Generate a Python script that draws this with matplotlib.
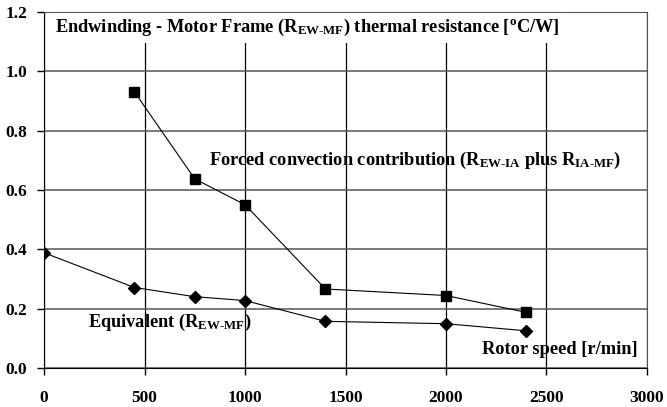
import matplotlib
matplotlib.use('Agg')
import matplotlib.pyplot as plt

plt.rcParams['font.family'] = 'Liberation Serif'
plt.rcParams['font.weight'] = 'bold'
plt.rcParams['mathtext.fontset'] = 'custom'
plt.rcParams['mathtext.rm'] = 'Liberation Serif:bold'
plt.rcParams['mathtext.it'] = 'Liberation Serif:bold'
plt.rcParams['mathtext.bf'] = 'Liberation Serif:bold'

# rotor speed [r/min]
speed_forced = [450, 750, 1000, 1400, 2000, 2400]
r_forced = [0.93, 0.637, 0.55, 0.266, 0.244, 0.187]

speed_equiv = [0, 450, 750, 1000, 1400, 2000, 2400]
r_equiv = [0.388, 0.271, 0.24, 0.227, 0.157, 0.149, 0.125]

xticks = [0, 500, 1000, 1500, 2000, 2500, 3000]
yticks = [0.0, 0.2, 0.4, 0.6, 0.8, 1.0, 1.2]

fig = plt.figure(figsize=(6.67, 4.07), dpi=100)
ax = fig.add_axes([0.066, 0.096, 0.904, 0.875])

ax.plot(speed_forced, r_forced, color='black', lw=0.8, marker='s',
        markersize=7.5, zorder=3)
ax.plot(speed_equiv, r_equiv, color='black', lw=0.8, marker='D',
        markersize=6, zorder=3)

ax.set_xlim(0, 3000)
ax.set_ylim(0, 1.2)
ax.set_xticks(xticks)
ax.set_xticklabels([str(v) for v in xticks], fontsize=12.5, fontweight='bold')
ax.set_yticks(yticks)
ax.set_yticklabels(['%.1f' % v for v in yticks], fontsize=12.5, fontweight='bold')
ax.tick_params(direction='out', length=5, width=1)
ax.tick_params(axis='x', pad=11)
ax.tick_params(axis='y', pad=7)
ax.xaxis.grid(True, color='black', lw=0.9)
ax.yaxis.grid(True, color='#555555', lw=1.1)
ax.set_axisbelow(True)
for side in ['top', 'right']:
    ax.spines[side].set_color('#555555')
for side in ['left', 'bottom']:
    ax.spines[side].set_color('black')

fs = 13.2
ax.text(55, 1.146,
        r'Endwinding - Motor Frame (R$_{\text{EW-MF}}$) thermal resistance [$^{\text{o}}$C/W]',
        fontsize=fs, va='center', ha='left',
        bbox=dict(facecolor='white', edgecolor='none', pad=3))
ax.text(821, 0.70,
        r'Forced convection contribution (R$_{\text{EW-IA}}$ plus R$_{\text{IA-MF}}$)',
        fontsize=fs, va='center', ha='left')
ax.text(219, 0.153, r'Equivalent (R$_{\text{EW-MF}}$)',
        fontsize=fs, va='center', ha='left')
ax.text(2179, 0.061, 'Rotor speed [r/min]',
        fontsize=fs, va='center', ha='left')

plt.savefig('out.png', dpi=100)
